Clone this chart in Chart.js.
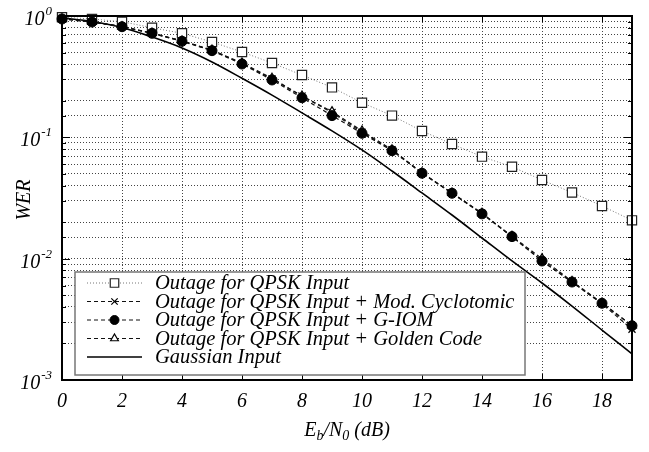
<!DOCTYPE html>
<html>
<head>
<meta charset="utf-8">
<script src="https://cdn.jsdelivr.net/npm/chart.js@4/dist/chart.umd.min.js"></script>
<style>
html,body{margin:0;padding:0;background:#fff;}
#wrap{width:649px;height:452px;position:relative;}
</style>
</head>
<body>
<div id="wrap"><canvas id="c" width="649" height="452"></canvas></div>
<script>
// ---- data ----
const ebn0 = [0,1,2,3,4,5,6,7,8,9,10,11,12,13,14,15,16,17,18,19];
const qpskInput = [0.976,0.945,0.898,0.801,0.720,0.611,0.505,0.410,0.326,0.258,0.193,0.151,0.1128,0.0881,0.0693,0.0572,0.0445,0.0351,0.0272,0.0207];
const qpskModCyclotomic = [0.955,0.895,0.818,0.722,0.622,0.522,0.405,0.303,0.219,0.160,0.110,0.0790,0.0508,0.0348,0.0236,0.0152,0.00960,0.00640,0.00425,0.00262];
const qpskGIOM = [0.945,0.892,0.816,0.720,0.619,0.518,0.402,0.297,0.212,0.151,0.108,0.0776,0.0506,0.0346,0.0234,0.0152,0.00957,0.00642,0.00429,0.00280];
const qpskGolden = [0.950,0.893,0.818,0.724,0.624,0.524,0.410,0.307,0.219,0.163,0.113,0.0790,0.0510,0.0348,0.0237,0.0153,0.0100,0.00650,0.00432,0.00282];
const gaussianInput = [0.965,0.900,0.804,0.671,0.545,0.418,0.307,0.223,0.159,0.113,0.0787,0.0528,0.0348,0.0229,0.0148,0.00957,0.00630,0.00407,0.00258,0.00164];
const seriesLabels = ['Outage for QPSK Input','Outage for QPSK Input + Mod. Cyclotomic','Outage for QPSK Input + G-IOM','Outage for QPSK Input + Golden Code','Gaussian Input'];
const xTickLabels = ['0','2','4','6','8','10','12','14','16','18'];
const yDecadeExponents = ['0','-1','-2','-3'];

const SERIF = 'Liberation Serif';
const pts = arr => arr.map((v,i)=>({x:ebn0[i], y:v}));

const datasets = [
  {label:seriesLabels[0], data:pts(qpskInput), borderColor:'#777', borderWidth:1, borderDash:[1,2],
   pointStyle:'rect', pointRadius:6.5, pointBorderColor:'#222', pointBackgroundColor:'#fff', pointBorderWidth:1.2, order:4},
  {label:seriesLabels[1], data:pts(qpskModCyclotomic), borderColor:'#111', borderWidth:1.2, borderDash:[4,3],
   pointStyle:'crossRot', pointRadius:5, pointBorderColor:'#000', pointBorderWidth:1.2, order:3},
  {label:seriesLabels[2], data:pts(qpskGIOM), borderColor:'#111', borderWidth:1.2, borderDash:[4,3],
   pointStyle:'circle', pointRadius:5, pointBorderColor:'#000', pointBackgroundColor:'#000', pointBorderWidth:1, order:1},
  {label:seriesLabels[3], data:pts(qpskGolden), borderColor:'#111', borderWidth:1.2, borderDash:[4,3],
   pointStyle:'triangle', pointRadius:5, pointBorderColor:'#000', pointBackgroundColor:'#fff', pointBorderWidth:1.2, order:2},
  {label:seriesLabels[4], data:pts(gaussianInput), borderColor:'#000', borderWidth:1.6,
   pointRadius:0, cubicInterpolationMode:'monotone', order:5}
];
datasets.forEach(d=>{ d.fill=false; d.pointHoverRadius=d.pointRadius; d.clip=8; });

function sup(ctx, base, exp, xRight, yMid){
  ctx.save();
  ctx.fillStyle='#000';
  ctx.textBaseline='alphabetic';
  ctx.font='italic 13px '+SERIF;
  const we = ctx.measureText(exp).width;
  ctx.font='italic 20px '+SERIF;
  const wb = ctx.measureText(base).width;
  const x0 = xRight - we - wb;
  ctx.textAlign='left';
  ctx.fillText(base, x0, yMid+7);
  ctx.font='italic 13px '+SERIF;
  ctx.fillText(exp, x0+wb+1, yMid-3);
  ctx.restore();
}

const custom = {
  id:'custom',
  beforeDatasetsDraw(chart){
    const {ctx, chartArea:a, scales:{x,y}} = chart;
    ctx.save();
    ctx.strokeStyle='#000'; ctx.lineWidth=1;
    x.ticks.forEach(t=>{
      const px = Math.round(x.getPixelForValue(t.value))+0.5;
      ctx.beginPath(); ctx.moveTo(px,a.bottom); ctx.lineTo(px,a.bottom-6);
      ctx.moveTo(px,a.top); ctx.lineTo(px,a.top+6); ctx.stroke();
    });
    y.ticks.forEach(t=>{
      const py = Math.round(y.getPixelForValue(t.value))+0.5;
      const major = Math.abs(Math.log10(t.value)-Math.round(Math.log10(t.value)))<1e-6;
      const L = major?8:4;
      ctx.beginPath(); ctx.moveTo(a.left,py); ctx.lineTo(a.left+L,py);
      ctx.moveTo(a.right,py); ctx.lineTo(a.right-L,py); ctx.stroke();
    });
    ctx.restore();
  },
  afterDatasetsDraw(chart){
    const {ctx, chartArea:a} = chart;
    ctx.save();
    const bx=75, by=272, bw=450, bh=103;
    ctx.fillStyle='#fff'; ctx.fillRect(bx,by,bw,bh);
    ctx.strokeStyle='#777'; ctx.lineWidth=1.5; ctx.strokeRect(bx,by,bw,bh);
    const rows=[283,301.5,320,338.5,357];
    chart.data.datasets.forEach((d,i)=>{
      const yy=rows[i];
      ctx.save();
      ctx.strokeStyle=d.borderColor; ctx.lineWidth=d.borderWidth; ctx.setLineDash(d.borderDash||[]);
      ctx.beginPath(); ctx.moveTo(87,yy); ctx.lineTo(142,yy); ctx.stroke();
      ctx.restore();
      if(d.pointRadius>0){
        ctx.save();
        ctx.strokeStyle=d.pointBorderColor; ctx.fillStyle=d.pointBackgroundColor||'#fff'; ctx.lineWidth=d.pointBorderWidth;
        Chart.helpers.drawPoint(ctx,{pointStyle:d.pointStyle, radius:d.pointStyle==='rect'?6:4.5, borderWidth:d.pointBorderWidth},114.5,yy);
        ctx.restore();
      }
      ctx.fillStyle='#000'; ctx.font='italic 20.5px '+SERIF; ctx.textAlign='left'; ctx.textBaseline='middle';
      ctx.fillText(d.label,155,yy+1);
    });
    ctx.restore();
    ctx.save(); ctx.strokeStyle='#000'; ctx.lineWidth=2;
    ctx.strokeRect(a.left,a.top,a.right-a.left,a.bottom-a.top);
    ctx.restore();
  },
  afterDraw(chart){
    const {ctx, chartArea:a, scales:{y}} = chart;
    yDecadeExponents.forEach(e=>{
      const v = Math.pow(10, parseInt(e,10));
      sup(ctx,'10',e,51,y.getPixelForValue(v)+2);
    });
    ctx.save();
    ctx.translate(25,(a.top+a.bottom)/2+2); ctx.rotate(-Math.PI/2);
    ctx.font='italic 20px '+SERIF; ctx.fillStyle='#000'; ctx.textAlign='center'; ctx.textBaseline='middle';
    ctx.fillText('WER',0,0);
    ctx.restore();
    ctx.save();
    ctx.fillStyle='#000'; ctx.textBaseline='alphabetic'; ctx.textAlign='left';
    const big='italic 20px '+SERIF, small='italic 14px '+SERIF;
    const parts=[['E',big,0],['b',small,4],['/N',big,0],['0',small,4],[' (dB)',big,0]];
    let w=0; parts.forEach(p=>{ctx.font=p[1]; w+=ctx.measureText(p[0]).width;});
    let cx=(a.left+a.right)/2 - w/2; const base=436;
    parts.forEach(p=>{ctx.font=p[1]; ctx.fillText(p[0],cx,base+p[2]); cx+=ctx.measureText(p[0]).width;});
    ctx.restore();
  }
};

new Chart(document.getElementById('c'),{
  type:'line',
  data:{datasets},
  options:{
    responsive:false, animation:false, devicePixelRatio:1,
    layout:{padding:{left:0,right:17,top:16,bottom:0}},
    plugins:{legend:{display:false}, tooltip:{enabled:false}},
    scales:{
      x:{type:'linear', min:0, max:19,
        grid:{color:'#444', lineWidth:1, drawTicks:false},
        border:{display:false, dash:[1,2]},
        ticks:{stepSize:2, includeBounds:false, autoSkip:false, padding:10, color:'#000',
               font:{family:SERIF, size:20, style:'italic'},
               callback:(v)=> xTickLabels.includes(String(v)) ? String(v) : ''},
        afterFit:(s)=>{s.height=72;}
      },
      y:{type:'logarithmic', min:0.001, max:1,
        grid:{color:'#444', lineWidth:1, drawTicks:false},
        border:{display:false, dash:[1,2]},
        ticks:{autoSkip:false, callback:()=>'' , padding:0},
        afterFit:(s)=>{s.width=62;}
      }
    }
  },
  plugins:[custom]
});
</script>
</body>
</html>
